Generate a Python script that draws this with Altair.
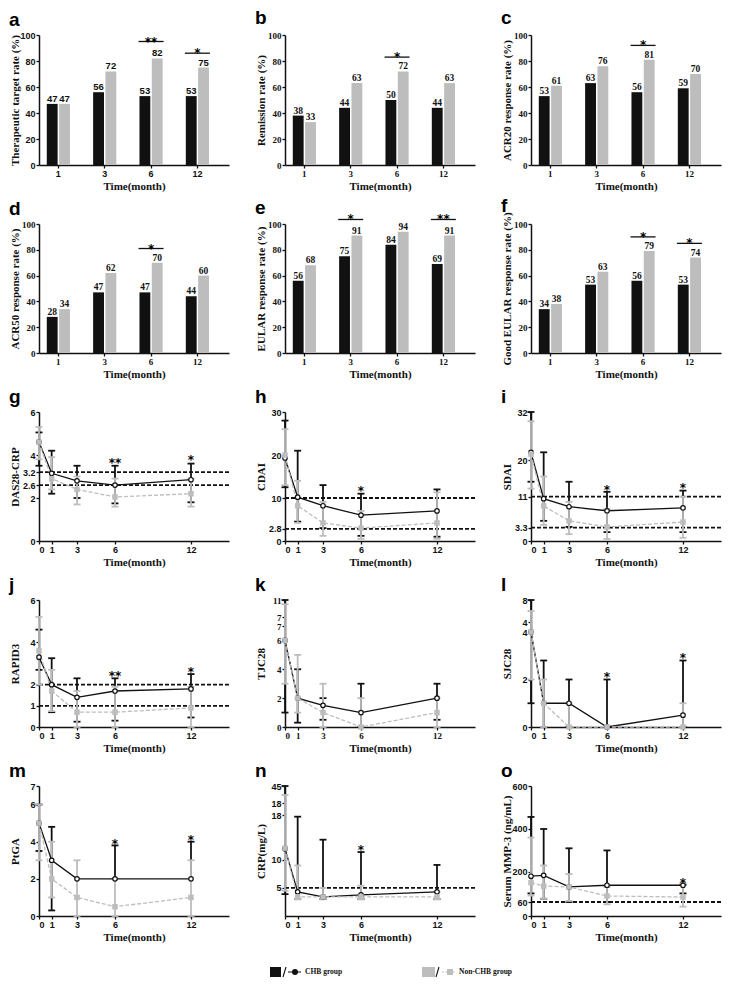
import altair as alt
import pandas as pd

BLACK = "#111111"
GREY = "#bdbdbd"
SANS = "Liberation Sans"
SERIF = "Liberation Serif"
W = 190

groups = ["CHB group", "Non-CHB group"]

# ---------------- bar panels (rates, %) ----------------
bar_times = ["1", "3", "6", "12"]

a_chb = [47, 56, 53, 53]
a_non = [47, 72, 82, 75]
a_sig_t = ["6", "12"]
a_sig_m = ["**", "*"]
a_sig_y = [95, 86]

b_chb = [38, 44, 50, 44]
b_non = [33, 63, 72, 63]
b_sig_t = ["6"]
b_sig_m = ["*"]
b_sig_y = [83]

c_chb = [53, 63, 56, 59]
c_non = [61, 76, 81, 70]
c_sig_t = ["6"]
c_sig_m = ["*"]
c_sig_y = [92]

d_chb = [28, 47, 47, 44]
d_non = [34, 62, 70, 60]
d_sig_t = ["6"]
d_sig_m = ["*"]
d_sig_y = [81]

e_chb = [56, 75, 84, 69]
e_non = [68, 91, 94, 91]
e_sig_t = ["3", "12"]
e_sig_m = ["*", "**"]
e_sig_y = [103.5, 103.5]

f_chb = [34, 53, 56, 53]
f_non = [38, 63, 79, 74]
f_sig_t = ["6", "12"]
f_sig_m = ["*", "*"]
f_sig_y = [90, 85]

# ---------------- line panels ----------------
line_times = [0, 1, 3, 6, 12]

g_chb = [4.6, 3.15, 2.8, 2.6, 2.85]
g_chb_lo = [3.5, 2.2, 2.0, 1.75, 1.8]
g_chb_hi = [5.05, 4.2, 3.5, 3.5, 3.6]
g_non = [4.6, 2.9, 2.4, 2.05, 2.2]
g_non_lo = [3.8, 2.4, 1.7, 1.6, 1.6]
g_non_hi = [5.3, 3.9, 3.0, 2.9, 2.9]
g_sig_t = [6, 12]
g_sig_m = ["**", "*"]
g_sig_y = [3.6, 3.7]
g_refs = [3.2, 2.6]
g_ticks = [0, 2, 2.6, 3.2, 4, 6]
g_labels = ["0", "2", "2.6", "3.2", "4", "6"]

h_chb = [19.3, 10.2, 8.2, 6.0, 7.0]
h_chb_lo = [12.5, 4.5, 3.0, 1.2, 1.0]
h_chb_hi = [28, 21, 13, 11, 12]
h_non = [20, 8.2, 4.2, 3.0, 4.2]
h_non_lo = [13, 4.2, 1.2, 0.5, 0.5]
h_non_hi = [26, 14, 9.1, 7, 11.3]
h_sig_t = [6]
h_sig_m = ["*"]
h_sig_y = [11.3]
h_refs = [10, 2.8]
h_ticks = [0, 2.8, 10, 20, 30]
h_labels = ["0", "2.8", "10", "20", "30"]

i_chb = [22, 10.5, 8.5, 7.5, 8.2]
i_chb_lo = [14.7, 5.0, 3.5, 2.2, 2.2]
i_chb_hi = [32, 22, 14.7, 12.2, 12.5]
i_non = [21.5, 8.7, 5.0, 3.5, 4.7]
i_non_lo = [13, 4.0, 1.7, 0.5, 0.8]
i_non_hi = [29.7, 16, 9.7, 8, 11]
i_sig_t = [6, 12]
i_sig_m = ["*", "*"]
i_sig_y = [12.5, 12.8]
i_refs = [11, 3.3]
i_ticks = [0, 3.3, 11, 20, 32]
i_labels = ["0", "3.3", "11", "20", "32"]

j_chb = [3.3, 2.0, 1.4, 1.7, 1.8]
j_chb_lo = [2.7, 0.7, 0.25, 0.3, 0.45]
j_chb_hi = [4.6, 3.25, 2.3, 2.3, 2.5]
j_non = [3.6, 1.7, 0.7, 0.7, 0.9]
j_non_lo = [2.0, 0.75, 0.0, 0.0, 0.0]
j_non_hi = [5.2, 2.7, 1.7, 1.9, 1.9]
j_sig_t = [6, 12]
j_sig_m = ["**", "*"]
j_sig_y = [2.35, 2.55]
j_refs = [2, 1]
j_ticks = [0, 1, 2, 4, 6]
j_labels = ["0", "1", "2", "4", "6"]

k_chb = [6, 2, 1.5, 1, 2]
k_chb_lo = [1, 0.3, 0.5, 0, 0.5]
k_chb_hi = [11, 4, 2, 3, 3]
k_non = [6, 2, 1, 0, 1]
k_non_lo = [3, 1, 0, 0, 0]
k_non_hi = [10, 5, 3, 2, 2]
k_sig_t = []
k_sig_m = []
k_sig_y = []
k_refs = []
k_ticks = [0, 2, 4, 6, 7, 7.01, 11]
k_labels = ["0", "2", "4", "6", "7", "7", "11"]

l_chb = [4, 1, 1, 0, 0.5]
l_chb_lo = [1, 0, 0, 0, 0]
l_chb_hi = [8, 2.8, 2, 2, 2.8]
l_non = [4, 1, 0, 0, 0]
l_non_lo = [2, 0, 0, 0, 0]
l_non_hi = [6, 2, 1, 0, 1]
l_sig_t = [6, 12]
l_sig_m = ["*", "*"]
l_sig_y = [2.05, 2.85]
l_refs = []
l_ticks = [0, 2, 4, 4.01, 8]
l_labels = ["0", "2", "4", "4", "8"]

m_chb = [5, 3, 2, 2, 2]
m_chb_lo = [3.5, 0.3, 2, 2, 2]
m_chb_hi = [6, 4.8, 2, 3.8, 4]
m_non = [5, 2, 1, 0.5, 1]
m_non_lo = [3, 1, 0, 0, 0]
m_non_hi = [6, 4, 3, 2, 3]
m_sig_t = [6, 12]
m_sig_m = ["*", "*"]
m_sig_y = [3.85, 4.05]
m_refs = []
m_ticks = [0, 2, 4, 6, 7]
m_labels = ["0", "2", "4", "6", "7"]

n_chb = [12, 4.3, 3.4, 3.75, 4.3]
n_chb_lo = [3.9, 3, 3, 3, 3]
n_chb_hi = [45, 17.7, 13.6, 11.4, 9.1]
n_non = [12.1, 3.4, 3.4, 3.4, 3.4]
n_non_lo = [4.5, 3.0, 3.0, 3.0, 3.0]
n_non_hi = [30.7, 9, 5, 5.4, 4.3]
n_sig_t = [6]
n_sig_m = ["*"]
n_sig_y = [11.6]
n_refs = [5]
n_ticks = [5, 10, 18, 18.01, 45]
n_labels = ["5", "10", "18", "18", "45"]

o_chb = [180, 184, 130, 138, 138]
o_chb_lo = [100, 75, 60, 60, 100]
o_chb_hi = [456, 400, 310, 300, 140]
o_non = [150, 134, 130, 88, 83]
o_non_lo = [90, 75, 65, 50, 40]
o_non_hi = [360, 230, 190, 130, 150]
o_sig_t = [12]
o_sig_m = ["*"]
o_sig_y = [145]
o_refs = [60]
o_ticks = [0, 60, 200, 400, 600]
o_labels = ["0", "60", "200", "400", "600"]


def title(letter, offset=1):
    return alt.Title(letter, anchor="start", frame="bounds", fontSize=19,
                     font=SANS, fontWeight="bold", offset=offset, color="black")


def bar_panel(letter, ytitle, chb, non, sig_t, sig_m, sig_y, height, font,
              toff=1):
    df = pd.DataFrame({"time": bar_times * 2,
                       "group": [groups[0]] * 4 + [groups[1]] * 4,
                       "value": chb + non})
    sig = pd.DataFrame({"time": sig_t, "mark": sig_m, "value": sig_y})
    xs = alt.Scale(paddingInner=0.5, paddingOuter=0.3, align=0.28)
    X = alt.X("time:N", sort=bar_times, scale=xs,
              axis=alt.Axis(title="Time(month)", labelAngle=0, labelFont=font))
    Y = alt.Y("value:Q", scale=alt.Scale(domain=[0, 100], nice=False),
              axis=alt.Axis(values=[0, 20, 40, 60, 80, 100], title=ytitle,
                            labelFont=font))
    XO = alt.XOffset("group:N", sort=groups,
                     scale=alt.Scale(paddingInner=0.12, paddingOuter=0))
    base = alt.Chart(df).encode(x=X, xOffset=XO, y=Y)
    bars = base.mark_bar().encode(
        color=alt.Color("group:N", sort=groups,
                        scale=alt.Scale(domain=groups, range=[BLACK, GREY]),
                        legend=None))
    labels = base.mark_text(baseline="bottom", dy=0, font=font,
                            fontWeight="bold", fontSize=9.5,
                            color=BLACK).encode(text="value:Q")
    layers = [bars, labels]
    if sig_t:
        sb = alt.Chart(sig).encode(x=X, y=Y)
        layers.append(sb.mark_tick(orient="horizontal", size=25, thickness=1.3,
                                   color=BLACK, opacity=1))
        layers.append(sb.mark_text(baseline="alphabetic", dy=4, font="DejaVu Sans",
                                   fontWeight="bold", fontSize=12,
                                   color="black").encode(text="mark:N"))
    return alt.layer(*layers).properties(width=W, height=height,
                                         title=title(letter, toff))


def label_expr(vals, labs):
    expr = "''"
    for v, lab in zip(vals[::-1], labs[::-1]):
        expr = f"abs(datum.value - {v}) < 0.000001 ? '{lab}' : ({expr})"
    return expr


def line_panel(letter, ytitle, chb, chb_lo, chb_hi, non, non_lo, non_hi,
               sig_t, sig_m, sig_y, refs, ticks, labels, dom, rng, height,
               font=SANS, toff=1):
    n = len(line_times)
    df = pd.DataFrame({"t": line_times * 2,
                       "g": [groups[0]] * n + [groups[1]] * n,
                       "v": chb + non, "lo": chb_lo + non_lo,
                       "hi": chb_hi + non_hi})
    xs = alt.Scale(domain=[0, 15], nice=False, zero=False)
    xax = alt.Axis(values=line_times, title="Time(month)", labelAngle=0,
                   labelFont=font)
    ys = alt.Scale(domain=dom, range=rng, nice=False, zero=False)
    yax = alt.Axis(values=ticks, labelExpr=label_expr(ticks, labels),
                   title=ytitle, labelFont=font)

    def X(f):
        return alt.X(f"{f}:Q", scale=xs, axis=xax)

    def Y(f):
        return alt.Y(f"{f}:Q", scale=ys, axis=yax)

    base = alt.Chart(df)
    layers = []
    if refs:
        layers.append(alt.Chart(pd.DataFrame({"r": refs})).mark_rule(
            color=BLACK, strokeDash=[4, 2], strokeWidth=1.8).encode(y=Y("r")))
    for grp, col in ((groups[0], BLACK), (groups[1], GREY)):
        sub = base.transform_filter(alt.datum.g == grp)
        layers.append(sub.mark_rule(color=col, strokeWidth=1.8).encode(
            x=X("t"), y=Y("lo"), y2="hi:Q"))
        layers.append(sub.transform_filter("datum.hi > datum.v").mark_tick(
            orient="horizontal", color=col, size=7, thickness=1.8,
            opacity=1).encode(x=X("t"), y=Y("hi")))
        layers.append(sub.transform_filter("datum.lo < datum.v").mark_tick(
            orient="horizontal", color=col, size=7, thickness=1.8,
            opacity=1).encode(x=X("t"), y=Y("lo")))
    blk = base.transform_filter(alt.datum.g == groups[0])
    gry = base.transform_filter(alt.datum.g == groups[1])
    layers.append(blk.mark_line(color=BLACK, strokeWidth=1.3).encode(
        x=X("t"), y=Y("v")))
    layers.append(gry.mark_line(color=GREY, strokeWidth=1.3,
                                strokeDash=[4, 2]).encode(x=X("t"), y=Y("v")))
    layers.append(blk.mark_point(shape="circle", size=20, fill="white",
                                 stroke=BLACK, strokeWidth=1.2,
                                 opacity=1, fillOpacity=1).encode(
        x=X("t"), y=Y("v")))
    layers.append(gry.mark_square(size=30, color=GREY, opacity=1).encode(
        x=X("t"), y=Y("v")))
    if sig_t:
        sig = pd.DataFrame({"t": sig_t, "m": sig_m, "s": sig_y})
        layers.append(alt.Chart(sig).mark_text(
            baseline="alphabetic", dy=3, font="DejaVu Sans", fontWeight="bold",
            fontSize=12, color="black").encode(x=X("t"), y=Y("s"), text="m:N"))
    return alt.layer(*layers).properties(width=W, height=height,
                                         title=title(letter, toff))


H1, H2, H3, H4, H5 = 130, 129, 129, 127, 130

pa = bar_panel("a", "Therapeutic target rate (%)", a_chb, a_non, a_sig_t, a_sig_m, a_sig_y, H1, SANS, toff=1)
pb = bar_panel("b", "Remission rate (%)", b_chb, b_non, b_sig_t, b_sig_m, b_sig_y, H1, SERIF, toff=3)
pc = bar_panel("c", "ACR20 response rate (%)", c_chb, c_non, c_sig_t, c_sig_m, c_sig_y, H1, SERIF, toff=3)
pd_ = bar_panel("d", "ACR50 response rate (%)", d_chb, d_non, d_sig_t, d_sig_m, d_sig_y, H2, SERIF)
pe = bar_panel("e", "EULAR response rate (%)", e_chb, e_non, e_sig_t, e_sig_m, e_sig_y, H2, SERIF, toff=-5)
pf = bar_panel("f", "Good EULAR response rate (%)", f_chb, f_non, f_sig_t, f_sig_m, f_sig_y, H2, SERIF, toff=-4)

pg = line_panel("g", "DAS28-CRP", g_chb, g_chb_lo, g_chb_hi, g_non, g_non_lo, g_non_hi,
                g_sig_t, g_sig_m, g_sig_y, g_refs, g_ticks, g_labels, [0, 6], [H3, 0], H3)
ph = line_panel("h", "CDAI", h_chb, h_chb_lo, h_chb_hi, h_non, h_non_lo, h_non_hi,
                h_sig_t, h_sig_m, h_sig_y, h_refs, h_ticks, h_labels, [0, 30], [H3, 0], H3)
pi = line_panel("i", "SDAI", i_chb, i_chb_lo, i_chb_hi, i_non, i_non_lo, i_non_hi,
                i_sig_t, i_sig_m, i_sig_y, i_refs, i_ticks, i_labels, [0, 32], [H3, 0], H3)
pj = line_panel("j", "RAPID3", j_chb, j_chb_lo, j_chb_hi, j_non, j_non_lo, j_non_hi,
                j_sig_t, j_sig_m, j_sig_y, j_refs, j_ticks, j_labels, [0, 6], [H4, 0], H4)
pk = line_panel("k", "TJC28", k_chb, k_chb_lo, k_chb_hi, k_non, k_non_lo, k_non_hi,
                k_sig_t, k_sig_m, k_sig_y, k_refs, k_ticks, k_labels,
                [0, 7, 7.01, 11], [H4, 26, 17, 0], H4, font=SERIF)
pl = line_panel("l", "SJC28", l_chb, l_chb_lo, l_chb_hi, l_non, l_non_lo, l_non_hi,
                l_sig_t, l_sig_m, l_sig_y, l_refs, l_ticks, l_labels,
                [0, 4, 4.01, 8], [H4, 32, 22, 0], H4)
pm = line_panel("m", "PtGA", m_chb, m_chb_lo, m_chb_hi, m_non, m_non_lo, m_non_hi,
                m_sig_t, m_sig_m, m_sig_y, m_refs, m_ticks, m_labels,
                [0, 7], [H5, 0], H5)
pn = line_panel("n", "CRP(mg/L)", n_chb, n_chb_lo, n_chb_hi, n_non, n_non_lo, n_non_hi,
                n_sig_t, n_sig_m, n_sig_y, n_refs, n_ticks, n_labels,
                [0, 18, 18.01, 45], [H5, 29, 17, 0], H5)
po = line_panel("o", "Serum MMP-3 (ng/mL)", o_chb, o_chb_lo, o_chb_hi, o_non, o_non_lo, o_non_hi,
                o_sig_t, o_sig_m, o_sig_y, o_refs, o_ticks, o_labels,
                [0, 60, 600], [H5, 116, 0], H5)

# ---------------- legend (bottom cell of first column) ----------------
leg_df = pd.DataFrame({"g": groups})
LX = alt.X("g:N", sort=groups,
           scale=alt.Scale(range=[189, 497], paddingInner=0, paddingOuter=0),
           axis=None)
LY = alt.value(-3)
leg_base = alt.Chart(leg_df).encode(x=LX, y=LY)
chb_leg = leg_base.transform_filter(alt.datum.g == groups[0])
non_leg = leg_base.transform_filter(alt.datum.g == groups[1])
legend = alt.layer(
    chb_leg.mark_point(shape="M-34,-4h9v8h-9z", size=4, filled=True,
                       fill=BLACK, stroke=BLACK, opacity=1),
    chb_leg.mark_point(shape="M-22,5L-19,-5 M-17,0H-4", size=4,
                       stroke=BLACK, strokeWidth=1.1, opacity=1),
    chb_leg.mark_point(shape="M-12,0a2,2 0 1,0 4,0a2,2 0 1,0 -4,0",
                       size=4, filled=True, fill=BLACK, stroke=BLACK,
                       opacity=1),
    non_leg.mark_point(shape="M-36,-4h11v8h-11z", size=4, filled=True,
                       fill=GREY, stroke=GREY, opacity=1),
    non_leg.mark_point(shape="M-23,5L-20,-5", size=4, stroke=BLACK,
                       strokeWidth=1.1, opacity=1),
    non_leg.mark_point(shape="M-17,0H-3", size=4, stroke=GREY,
                       strokeWidth=1.1, strokeDash=[2, 1.5], opacity=1),
    non_leg.mark_point(shape="M-11,-2h4v4h-4z", size=4, filled=True,
                       fill=GREY, stroke=GREY, opacity=1),
    leg_base.mark_text(align="left", baseline="middle", dx=0, font=SERIF,
                       fontWeight="bold", fontSize=7.5,
                       color=BLACK).encode(text="g:N"),
).properties(width=W, height=2)

chart = alt.concat(
    pa, pb, pc, pd_, pe, pf, pg, ph, pi, pj, pk, pl, pm, pn, po, legend,
    columns=3, bounds="flush",
    spacing={"row": 59, "column": 56},
).properties(padding={"top": 1, "left": 0, "right": 0, "bottom": 0}).configure_view(
    stroke=None
).configure_axis(
    domainColor=BLACK, domainWidth=1.5, tickColor=BLACK, tickWidth=1.3,
    tickSize=3, labelFont=SANS, labelFontWeight="bold", labelFontSize=9,
    labelColor=BLACK, labelPadding=1, titleFont=SERIF, titleFontWeight="bold",
    titleFontSize=11, titleColor=BLACK, grid=False
).configure_axisY(minExtent=17, maxExtent=17, titlePadding=2).configure_axisX(
    titlePadding=2, labelAngle=0)

chart.save("out.html", embed_options={"renderer": "svg", "actions": False})
